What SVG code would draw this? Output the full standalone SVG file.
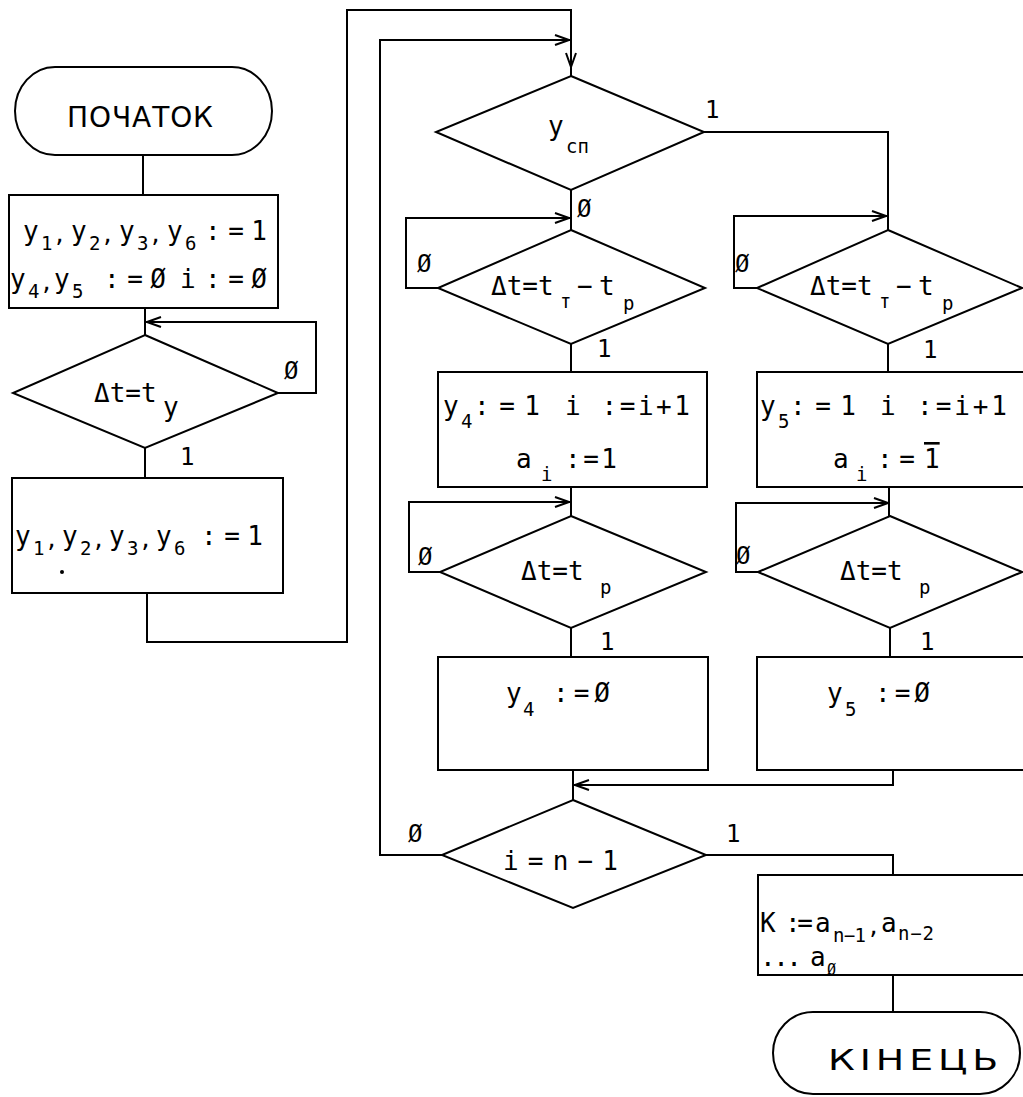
<svg xmlns="http://www.w3.org/2000/svg" width="1023" height="1097" viewBox="0 0 1023 1097">
<style>
.sh{fill:none;stroke:#000;stroke-width:2}
.ln{fill:none;stroke:#000;stroke-width:2}
text{font-family:"DejaVu Sans Mono","Liberation Mono",monospace;fill:#000}
.t{font-size:26px}
.s{font-size:19px}
.c{font-size:22px}
.l{font-size:24px}
.big{font-family:"DejaVu Sans","Liberation Sans",sans-serif;font-size:28px}
</style>
<defs>
<marker id="arr" viewBox="0 0 16 12" refX="16" refY="6" markerWidth="16" markerHeight="12" markerUnits="userSpaceOnUse" orient="auto">
<path d="M1,1 L15,6 L1,11" fill="none" stroke="#000" stroke-width="2"/>
</marker>
</defs>
<rect width="1023" height="1097" fill="#fff"/>

<g id="connectors">
<path class="ln" d="M143,155 V195"/>
<path class="ln" d="M145,308 V335"/>
<path class="ln" d="M278,393 H316 V322 H146" marker-end="url(#arr)"/>
<path class="ln" d="M145,448 V478"/>
<path class="ln" d="M147,593 V642 H347 V10 H571 V68" marker-end="url(#arr)"/>
<path class="ln" d="M571,68 V76"/>
<path class="ln" d="M442,855 H380 V40 H570" marker-end="url(#arr)"/>
<path class="ln" d="M571,190 V230"/>
<path class="ln" d="M438,288 H406 V218 H570" marker-end="url(#arr)"/>
<path class="ln" d="M704,132 H888 V230"/>
<path class="ln" d="M757,288 H734 V216 H887" marker-end="url(#arr)"/>
<path class="ln" d="M571,344 V372"/>
<path class="ln" d="M888,344 V372"/>
<path class="ln" d="M571,487 V516"/>
<path class="ln" d="M889,487 V516"/>
<path class="ln" d="M440,572 H409 V502 H570" marker-end="url(#arr)"/>
<path class="ln" d="M758,572 H736 V503 H889" marker-end="url(#arr)"/>
<path class="ln" d="M571,628 V657"/>
<path class="ln" d="M890,628 V657"/>
<path class="ln" d="M573,770 V800"/>
<path class="ln" d="M893,770 V785 H574" marker-end="url(#arr)"/>
<path class="ln" d="M706,855 H893 V875"/>
<path class="ln" d="M893,975 V1012"/>
</g>

<g id="start">
<rect class="sh" x="15" y="67" width="257" height="88" rx="40" ry="44"/>
<text class="big" x="67" y="127" textLength="146" lengthAdjust="spacing">ПОЧАТОК</text>
</g>

<g id="init">
<rect class="sh" x="9" y="195" width="269" height="113"/>
<text class="t" x="23" y="240">у</text><text class="s" x="41" y="250">1</text><text class="c" x="53" y="242">,</text>
<text class="t" x="71" y="240">у</text><text class="s" x="89" y="250">2</text><text class="c" x="101" y="242">,</text>
<text class="t" x="119" y="240">у</text><text class="s" x="137" y="250">3</text><text class="c" x="149" y="242">,</text>
<text class="t" x="167" y="240">у</text><text class="s" x="185" y="250">6</text>
<text class="t" x="205" y="240" textLength="62" lengthAdjust="spacing">:=1</text>
<text class="t" x="10" y="288">у</text><text class="s" x="28" y="298">4</text><text class="c" x="40" y="290">,</text>
<text class="t" x="54" y="288">у</text><text class="s" x="72" y="298">5</text>
<text class="t" x="104" y="288" textLength="62" lengthAdjust="spacing">:=Ø</text>
<text class="t" x="180" y="288">i</text>
<text class="t" x="205" y="288" textLength="62" lengthAdjust="spacing">:=Ø</text>
</g>

<g id="wait-ty">
<polygon class="sh" points="145,335 278,393 145,448 13,393"/>
<text class="t" x="94" y="402">Δt=t</text>
<text class="t" x="163" y="416">у</text>
<text class="l" x="284" y="379">Ø</text>
<text class="l" x="180" y="465">1</text>
</g>

<g id="set-y">
<rect class="sh" x="12" y="478" width="271" height="115"/>
<text class="t" x="15" y="545">у</text><text class="s" x="33" y="555">1</text><text class="c" x="45" y="547">,</text>
<text class="t" x="62" y="545">у</text><text class="s" x="80" y="555">2</text><text class="c" x="92" y="547">,</text>
<text class="t" x="109" y="545">у</text><text class="s" x="127" y="555">3</text><text class="c" x="139" y="547">,</text>
<text class="t" x="156" y="545">у</text><text class="s" x="174" y="555">6</text>
<text class="t" x="201" y="545" textLength="62" lengthAdjust="spacing">:=1</text>
<circle cx="62" cy="572" r="2" fill="#000"/>
</g>

<g id="ysp">
<polygon class="sh" points="571,76 704,132 571,190 436,132"/>
<text class="t" x="548" y="135">у</text>
<text class="s" x="566" y="153">сп</text>
<text class="l" x="705" y="118">1</text>
<text class="l" x="577" y="217">Ø</text>
</g>

<g id="wait-left1">
<polygon class="sh" points="571,230 705,288 571,344 438,288"/>
<text class="t" x="491" y="295">Δt=t</text>
<text class="s" x="560" y="308">т</text>
<text class="t" x="577" y="295">−</text>
<text class="t" x="599" y="295">t</text>
<text class="s" x="623" y="310">р</text>
<text class="l" x="417" y="272">Ø</text>
<text class="l" x="597" y="357">1</text>
</g>

<g id="wait-right1">
<polygon class="sh" points="888,230 1022,288 888,344 757,288"/>
<text class="t" x="810" y="295">Δt=t</text>
<text class="s" x="879" y="308">т</text>
<text class="t" x="896" y="295">−</text>
<text class="t" x="918" y="295">t</text>
<text class="s" x="942" y="310">р</text>
<text class="l" x="735" y="272">Ø</text>
<text class="l" x="923" y="358">1</text>
</g>

<g id="set-left">
<rect class="sh" x="438" y="372" width="269" height="115"/>
<text class="t" x="443" y="415">у</text><text class="s" x="461" y="428">4</text>
<text class="t" x="474" y="415" textLength="66" lengthAdjust="spacing">:=1</text>
<text class="t" x="565" y="415" textLength="125" lengthAdjust="spacing">i :=i+1</text>
<text class="t" x="516" y="468">a</text><text class="s" x="541" y="481">i</text>
<text class="t" x="565" y="468" textLength="52" lengthAdjust="spacing">:=1</text>
</g>

<g id="set-right">
<rect class="sh" x="757" y="372" width="280" height="115"/>
<text class="t" x="760" y="415">у</text><text class="s" x="778" y="428">5</text>
<text class="t" x="790" y="415" textLength="66" lengthAdjust="spacing">:=1</text>
<text class="t" x="880" y="415" textLength="127" lengthAdjust="spacing">i :=i+1</text>
<text class="t" x="833" y="468">a</text><text class="s" x="856" y="481">i</text>
<text class="t" x="877" y="468" textLength="38" lengthAdjust="spacing">:=</text>
<text class="t" x="924" y="468" style="text-decoration:overline">1</text>
</g>

<g id="wait-left2">
<polygon class="sh" points="571,516 706,572 571,628 440,572"/>
<text class="t" x="521" y="580">Δt=t</text>
<text class="s" x="600" y="594">р</text>
<text class="l" x="418" y="565">Ø</text>
<text class="l" x="600" y="650">1</text>
</g>

<g id="wait-right2">
<polygon class="sh" points="890,516 1022,572 890,628 758,572"/>
<text class="t" x="840" y="580">Δt=t</text>
<text class="s" x="919" y="594">р</text>
<text class="l" x="736" y="564">Ø</text>
<text class="l" x="920" y="650">1</text>
</g>

<g id="reset-left">
<rect class="sh" x="438" y="657" width="270" height="113"/>
<text class="t" x="506" y="702">у</text><text class="s" x="523" y="716">4</text>
<text class="t" x="553" y="702" textLength="57" lengthAdjust="spacing">:=Ø</text>
</g>

<g id="reset-right">
<rect class="sh" x="757" y="657" width="280" height="113"/>
<text class="t" x="827" y="702">у</text><text class="s" x="845" y="716">5</text>
<text class="t" x="875" y="702" textLength="55" lengthAdjust="spacing">:=Ø</text>
</g>

<g id="check-i">
<polygon class="sh" points="573,800 706,855 573,908 442,855"/>
<text class="t" x="503" y="870" textLength="115" lengthAdjust="spacing">i=n−1</text>
<text class="l" x="408" y="842">Ø</text>
<text class="l" x="726" y="842">1</text>
</g>

<g id="result">
<rect class="sh" x="758" y="875" width="280" height="100"/>
<text class="t" x="760" y="932" textLength="53" lengthAdjust="spacing">К :=</text>
<text class="t" x="815" y="932">a</text>
<text class="s" x="833" y="942" textLength="33" lengthAdjust="spacing">n−1</text>
<text class="c" x="867" y="934">,</text>
<text class="t" x="881" y="932">a</text>
<text class="s" x="898" y="940" textLength="36" lengthAdjust="spacing">n−2</text>
<text class="t" x="760" y="966" textLength="42" lengthAdjust="spacing">...</text>
<text class="t" x="810" y="966">a</text>
<text class="s" x="827" y="975" style="font-size:15px">Ø</text>
</g>

<g id="end">
<rect class="sh" x="773" y="1012" width="247" height="82" rx="40" ry="41"/>
<text class="big" transform="translate(828,1070) scale(1.35,1)" x="0" y="0" textLength="126" lengthAdjust="spacing">КІНЕЦЬ</text>
</g>
</svg>
